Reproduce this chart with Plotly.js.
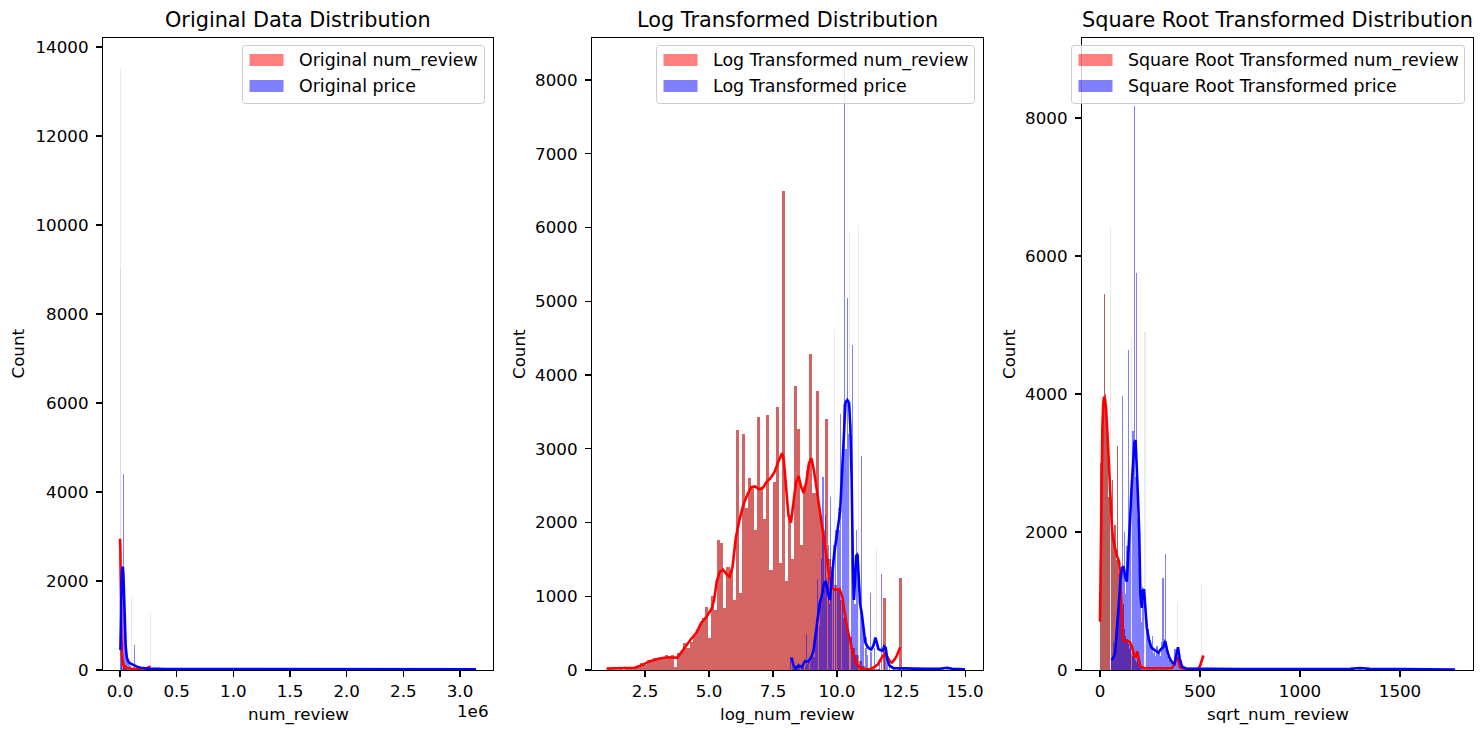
<!DOCTYPE html>
<html>
<head>
<meta charset="utf-8">
<script src="https://cdn.plot.ly/plotly-3.0.1.min.js"></script>
<style>
  html, body { margin: 0; padding: 0; background: #fff; }
  #chart { width: 1480px; height: 736px; }
</style>
</head>
<body>
<div id="chart"></div>
<script>
// ---------------- Panel 1: original values ----------------
const rawReviewBins   = [1500, 6000, 10500, 15000, 19500, 24000, 28500, 37500, 48000, 60000, 80000, 110000, 150000, 265000];
const rawReviewCounts = [13500, 9000, 450, 300, 200, 150, 100, 80, 60, 40, 30, 20, 10, 1250];
const rawReviewPale   = [1500, 6000, 265000];

const rawPriceBins   = [8000, 17000, 29000, 38000, 47000, 56000, 65000, 74000, 83000, 92000, 103000, 120000, 132000, 160000, 200000, 300000, 500000, 800000, 1200000, 1700000, 2300000, 3100000];
const rawPriceCounts = [500, 1800, 4400, 1500, 800, 400, 250, 150, 120, 80, 1650, 60, 560, 40, 25, 15, 10, 6, 5, 4, 3, 2];
const rawPricePale   = [103000];

const rawReviewKdeX = [0, 3000, 6000, 9000, 12000, 16000, 20000, 30000, 45000, 70000, 100000, 150000, 200000, 230000, 250000, 262000, 270000];
const rawReviewKdeY = [2950, 2750, 2100, 1300, 700, 380, 250, 130, 70, 40, 25, 15, 15, 30, 60, 70, 65];
const rawPriceKdeX  = [3600, 8000, 14000, 20000, 25000, 30000, 36000, 42000, 50000, 60000, 75000, 90000, 120000, 150000, 180000, 250000, 400000, 700000, 1000000, 1500000, 2000000, 2500000, 3140000];
const rawPriceKdeY  = [450, 1300, 2000, 2280, 2320, 2150, 1600, 1050, 550, 280, 180, 150, 110, 75, 50, 30, 22, 20, 18, 16, 15, 15, 14];

const rawTickVals = [0, 500000, 1000000, 1500000, 2000000, 2500000, 3000000];
const rawTickText = ['0.0', '0.5', '1.0', '1.5', '2.0', '2.5', '3.0'];

// ---------------- Panel 2: log transformed ----------------
const logReviewBinStart = 1.06, logReviewBinWidth = 0.12;
const logReviewCounts = [
  6, 0, 4, 0, 10, 0, 12, 18, 14, 30, 40,
  95, 70, 130, 110, 160, 130, 175, 160, 200, 190,
  205, 45, 230, 250, 360, 300, 380, 460, 540, 620,
  700, 860, 430, 1000, 820, 1760, 1720, 840, 1400, 1350,
  950, 3250, 1050, 3200, 2200, 2600, 2500, 1900, 3430, 2450,
  2050, 3460, 1350, 2550, 3560, 1450, 6500, 1200, 2100, 1500,
  3850, 3270, 1700, 2500, 2700, 4280, 2400, 3780, 2100, 1900,
  3400, 1500, 1300, 1150, 1100, 950, 700, 550, 450, 300,
  200, 120, 60, 30, 20, 15, 10, 8, 5, 980,
  4, 3, 2, 2, 1250
];
const logReviewPale = [];

const logPriceBinStart = 8.20, logPriceBinStep = 0.05;
const logPriceCounts = [
  170, 40, 15, 60, 20, 30, 90, 40, 60, 30, 120, 60, 490, 80, 150, 100,
  200, 260, 180, 420, 700, 1230, 600, 900, 1500, 2620, 1100, 2100, 1250, 1700, 900, 2350, 1400, 1700, 4620, 1900,
  1800, 2200, 1900, 3470, 2600, 3610, 8200, 3000, 5050, 3200, 5920, 2400, 4400, 1500, 900, 1900, 1600, 6030, 800, 2900,
  600, 500, 300, 450, 200
];
const logPriceTailBins   = [11.30, 11.35, 11.45, 11.55, 11.65, 11.75, 11.85, 11.95, 12.05, 12.20, 12.40, 12.60, 12.90, 13.20, 13.60, 14.30, 14.90];
const logPriceTailCounts = [1050, 250, 300, 1655, 150, 1300, 250, 150, 60, 30, 20, 15, 10, 8, 5, 20, 5];
const logPricePale = [9.90, 10.50, 10.85, 11.55];

const logReviewKdeX = [1.0, 1.6, 2.1, 2.4, 2.7, 3.0, 3.3, 3.6, 3.75, 3.9, 4.1, 4.3, 4.5, 4.7, 4.9, 5.1, 5.2, 5.3, 5.42, 5.55,
  5.68, 5.8, 5.92, 6.05, 6.2, 6.35, 6.5, 6.65, 6.8, 6.95, 7.1, 7.25, 7.4, 7.55, 7.68, 7.78, 7.85, 7.92, 8.0, 8.1,
  8.2, 8.3, 8.4, 8.5, 8.6, 8.7, 8.8, 8.9, 9.0, 9.1, 9.2, 9.3, 9.4, 9.5, 9.6, 9.7, 9.8, 9.9, 10.0, 10.1,
  10.2, 10.3, 10.4, 10.5, 10.6, 10.75, 10.87, 11.0, 11.27, 11.45, 11.6, 11.75, 11.86, 11.96, 12.06, 12.14, 12.22, 12.32, 12.4, 12.47];
const logReviewKdeY = [18, 20, 30, 70, 120, 150, 170, 170, 165, 230, 330, 420, 500, 640, 720, 830, 950, 1200, 1330, 1360,
  1300, 1265, 1400, 1800, 2050, 2250, 2380, 2480, 2490, 2450, 2470, 2550, 2600, 2680, 2800, 2900, 2940, 2850, 2500, 2100,
  2000, 2250, 2550, 2630, 2480, 2400, 2550, 2800, 2870, 2700, 2450, 2200, 1950, 1770, 1500, 1270, 1120, 1090, 1090, 1096,
  1000, 800, 560, 420, 260, 100, 32, 12, 9, 40, 78, 170, 216, 180, 120, 101, 130, 183, 240, 307];

const logPriceKdeX = [8.22, 8.30, 8.38, 8.50, 8.62, 8.75, 8.88, 9.00, 9.08, 9.16, 9.24, 9.32, 9.40, 9.50, 9.57, 9.64, 9.72, 9.80,
  9.88, 9.96, 10.04, 10.12, 10.20, 10.27, 10.33, 10.40, 10.47, 10.52, 10.57, 10.62, 10.66, 10.70, 10.75, 10.80, 10.85, 10.90,
  10.96, 11.02, 11.10, 11.18, 11.26, 11.34, 11.42, 11.50, 11.56, 11.62, 11.70, 11.78, 11.84, 11.90, 11.96, 12.05, 12.20, 12.50,
  13.00, 13.50, 14.00, 14.30, 14.50, 15.00];
const logPriceKdeY = [170, 60, 20, 60, 40, 120, 110, 180, 260, 480, 700, 900, 1000, 1180, 1200, 1050, 950, 1270,
  1550, 1750, 1950, 2150, 2700, 3300, 3630, 3660, 3620, 3300, 2600, 1400, 950, 1200, 1550, 1570, 1250, 900,
  780, 600, 380, 320, 290, 280, 330, 440, 350, 280, 270, 260, 320, 300, 150, 60, 25, 20,
  18, 15, 15, 30, 15, 8];

// ---------------- Panel 3: square root transformed ----------------
const sqrtReviewBinStart = 3, sqrtReviewBinStep = 6;
const sqrtReviewCounts = [3000, 3500, 3900, 5450, 4000, 3700, 3400, 2500, 6420, 2200,
  2750, 1900, 2100, 1600, 3250, 1400, 1200, 1000, 800, 950,
  600, 500, 450, 380, 300, 350, 250, 200, 180, 150,
  120, 160, 90, 60];
const sqrtReviewTailBins   = [213, 225, 237, 249, 261, 279, 303, 333, 387, 507];
const sqrtReviewTailCounts = [40, 35, 30, 25, 20, 15, 12, 8, 990, 1240];
const sqrtReviewPale = [51, 387, 507];

const sqrtPriceBinStart = 57, sqrtPriceBinStep = 6;
const sqrtPriceCounts = [150, 200, 400, 300, 500, 900, 700, 1500, 1300, 3970,
  1500, 2000, 1100, 1800, 4640, 2000, 2300, 4800, 3460, 8180,
  2800, 5760, 2200, 1900, 900, 700, 1200, 1000, 4900, 800,
  500, 600, 400, 350, 500, 250, 300, 200, 350, 250,
  300, 200, 400, 1330, 450, 1680, 300, 200, 150, 100,
  150, 120, 100, 300, 250, 150, 80, 60, 50, 40,
  30, 25];
const sqrtPriceTailBins   = [450, 500, 560, 680, 800, 1000, 1300, 1500, 1770];
const sqrtPriceTailCounts = [20, 15, 12, 10, 8, 6, 12, 5, 3];
const sqrtPricePale = [159, 225];

const sqrtReviewKdeX = [0, 4, 8, 12, 16, 20, 25, 30, 36, 42, 48, 54, 60, 66, 72, 78, 84, 90, 96, 102,
  108, 114, 120, 130, 140, 150, 160, 170, 178, 186, 194, 202, 220, 260, 320, 360, 372, 380, 386, 392,
  400, 420, 460, 490, 500, 508, 517];
const sqrtReviewKdeY = [700, 2000, 2900, 3500, 3850, 3960, 3930, 3800, 3500, 3150, 2700, 2300, 2050, 1900, 1820, 1720, 1650, 1620, 1560, 1250,
  880, 500, 420, 415, 420, 400, 330, 220, 180, 270, 150, 50, 30, 25, 25, 30, 80, 160, 190, 130,
  40, 15, 10, 12, 60, 150, 210];

const sqrtPriceKdeX = [56, 66, 76, 86, 94, 102, 110, 118, 126, 134, 142, 150, 158, 166, 172, 178, 184, 190, 196, 202,
  208, 214, 220, 226, 234, 244, 256, 268, 280, 292, 304, 316, 326, 336, 348, 360, 372, 382, 390, 398,
  410, 430, 470, 550, 700, 900, 1100, 1250, 1300, 1350, 1500, 1650, 1775];
const sqrtPriceKdeY = [150, 170, 260, 600, 950, 1300, 1480, 1500, 1350, 1280, 1650, 2150, 2650, 3050, 3300, 3330, 3000, 2500, 2000, 1100,
  900, 1150, 1170, 950, 620, 450, 330, 300, 280, 250, 300, 330, 420, 280, 170, 110, 90, 230, 330, 170,
  50, 22, 18, 16, 15, 14, 14, 16, 28, 16, 12, 10, 8];

// ---------------- Text ----------------
const panelTitles = ['Original Data Distribution', 'Log Transformed Distribution', 'Square Root Transformed Distribution'];
const xTitles = ['num_review', 'log_num_review', 'sqrt_num_review'];
const yTitle = 'Count';
const legendLabels = [
  ['Original num_review', 'Original price'],
  ['Log Transformed num_review', 'Log Transformed price'],
  ['Square Root Transformed num_review', 'Square Root Transformed price']
];
const offsetText = '1e6';

// ---------------- Drawing ----------------
const W = 1480, H = 736;
const px = x => x / W;
const py = y => 1 - y / H;
const FONT = 'DejaVu Sans, Liberation Sans, sans-serif';

const RED_BAR = '#d46363';
const RED_BAR_DENSE = '#b85c5c';
const BLUE_BAR = 'rgba(0,0,255,0.5)';
const PALE_BAR = 'rgba(190,190,190,0.32)';
const RED_LINE = '#ff0000';
const BLUE_LINE = '#0000ff';

function regularCenters(start, step, n) {
  const out = [];
  for (let i = 0; i < n; i++) out.push(start + i * step);
  return out;
}

function histTraces(centers, counts, pale, width, color, xa, ya) {
  const tol = width * 0.1;
  const isPale = c => pale.some(p => Math.abs(p - c) < tol);
  const nx = [], ny = [], qx = [], qy = [];
  centers.forEach((c, i) => {
    if (isPale(c)) { qx.push(c); qy.push(counts[i]); }
    else { nx.push(c); ny.push(counts[i]); }
  });
  const base = { type: 'bar', width: width, xaxis: xa, yaxis: ya, hoverinfo: 'skip', showlegend: false };
  return [
    Object.assign({}, base, { x: nx, y: ny, marker: { color: color, line: { width: 0 } } }),
    Object.assign({}, base, { x: qx, y: qy, marker: { color: PALE_BAR, line: { width: 0 } } })
  ];
}

function kdeTrace(x, y, color, xa, ya) {
  return { type: 'scatter', mode: 'lines', x: x, y: y, xaxis: xa, yaxis: ya,
           line: { color: color, width: 2.6 }, hoverinfo: 'skip', showlegend: false };
}

const traces = [];
// panel 1
traces.push(...histTraces(rawReviewBins, rawReviewCounts, rawReviewPale, 9000, RED_BAR, 'x', 'y'));
traces.push(kdeTrace(rawReviewKdeX, rawReviewKdeY, RED_LINE, 'x', 'y'));
traces.push(...histTraces(rawPriceBins, rawPriceCounts, rawPricePale, 9000, BLUE_BAR, 'x', 'y'));
traces.push(kdeTrace(rawPriceKdeX, rawPriceKdeY, BLUE_LINE, 'x', 'y'));
// panel 2 (price bars drawn slightly narrower than their bins, leaving thin gaps)
traces.push(...histTraces(regularCenters(logReviewBinStart, logReviewBinWidth, logReviewCounts.length),
  logReviewCounts, logReviewPale, logReviewBinWidth, RED_BAR, 'x2', 'y2'));
traces.push(kdeTrace(logReviewKdeX, logReviewKdeY, RED_LINE, 'x2', 'y2'));
traces.push(...histTraces(
  regularCenters(logPriceBinStart, logPriceBinStep, logPriceCounts.length).concat(logPriceTailBins),
  logPriceCounts.concat(logPriceTailCounts), logPricePale, 0.042, BLUE_BAR, 'x2', 'y2'));
traces.push(kdeTrace(logPriceKdeX, logPriceKdeY, BLUE_LINE, 'x2', 'y2'));
// panel 3
traces.push(...histTraces(
  regularCenters(sqrtReviewBinStart, sqrtReviewBinStep, sqrtReviewCounts.length).concat(sqrtReviewTailBins),
  sqrtReviewCounts.concat(sqrtReviewTailCounts), sqrtReviewPale, sqrtReviewBinStep, RED_BAR_DENSE, 'x3', 'y3'));
traces.push(kdeTrace(sqrtReviewKdeX, sqrtReviewKdeY, RED_LINE, 'x3', 'y3'));
traces.push(...histTraces(
  regularCenters(sqrtPriceBinStart, sqrtPriceBinStep, sqrtPriceCounts.length).concat(sqrtPriceTailBins),
  sqrtPriceCounts.concat(sqrtPriceTailCounts), sqrtPricePale, sqrtPriceBinStep, BLUE_BAR, 'x3', 'y3'));
traces.push(kdeTrace(sqrtPriceKdeX, sqrtPriceKdeY, BLUE_LINE, 'x3', 'y3'));

const TICK_FONT = { family: FONT, size: 16.7, color: '#000' };
function axis(extra) {
  return Object.assign({
    showline: true, mirror: true, linecolor: '#000', linewidth: 1.1,
    ticks: 'outside', ticklen: 6, tickwidth: 1.1, tickcolor: '#000',
    showgrid: false, zeroline: false, tickfont: TICK_FONT, fixedrange: true
  }, extra);
}

// frame pixel bounds of each subplot
const frames = [[103, 493], [592, 983], [1082, 1473]];
const frameTop = 38, frameBottom = 670;
const yDomain = [py(frameBottom), py(frameTop)];

const layout = {
  width: W, height: H,
  margin: { l: 0, r: 0, t: 0, b: 0 },
  paper_bgcolor: '#fff', plot_bgcolor: '#fff',
  showlegend: false, barmode: 'overlay', bargap: 0,
  font: { family: FONT, color: '#000' },
  xaxis: axis({ domain: [px(frames[0][0]), px(frames[0][1])], range: [-150000, 3291000],
                tickmode: 'array', tickvals: rawTickVals, ticktext: rawTickText, anchor: 'y' }),
  yaxis: axis({ domain: yDomain, range: [0, 14202], tick0: 0, dtick: 2000, tickformat: 'd', anchor: 'x', ticklabelstandoff: 4 }),
  xaxis2: axis({ domain: [px(frames[1][0]), px(frames[1][1])], range: [0.43, 15.70],
                 tick0: 0, dtick: 2.5, tickformat: '.1f', anchor: 'y2' }),
  yaxis2: axis({ domain: yDomain, range: [0, 8569], tick0: 0, dtick: 1000, tickformat: 'd', anchor: 'x2', ticklabelstandoff: 4 }),
  xaxis3: axis({ domain: [px(frames[2][0]), px(frames[2][1])], range: [-90, 1865],
                 tick0: 0, dtick: 500, tickformat: 'd', anchor: 'y3' }),
  yaxis3: axis({ domain: yDomain, range: [0, 9159], tick0: 0, dtick: 2000, tickformat: 'd', anchor: 'x3', ticklabelstandoff: 4 }),
  shapes: [],
  annotations: []
};

function text(t, x, y, opts) {
  layout.annotations.push(Object.assign({
    text: t, xref: 'paper', yref: 'paper', x: px(x), y: py(y),
    xanchor: 'center', yanchor: 'middle', showarrow: false,
    font: { family: FONT, size: 16.7, color: '#000' }
  }, opts || {}));
}

// titles and axis labels
const yTitleX = [17.5, 519, 1009];
frames.forEach((f, i) => {
  const cx = (f[0] + f[1]) / 2;
  text(panelTitles[i], cx, 19.5, { font: { family: FONT, size: 20.8, color: '#000' } });
  text(xTitles[i], cx, 714);
  text(yTitle, yTitleX[i], (frameTop + frameBottom) / 2, { textangle: -90 });
});
text(offsetText, 491, 711, { xanchor: 'right' });

// legends
function P(x, y) { return px(x).toFixed(6) + ',' + py(y).toFixed(6); }
function roundedRect(x0, y0, x1, y1, r) {
  return 'M' + P(x0 + r, y0) + ' L' + P(x1 - r, y0) + ' Q' + P(x1, y0) + ' ' + P(x1, y0 + r) +
         ' L' + P(x1, y1 - r) + ' Q' + P(x1, y1) + ' ' + P(x1 - r, y1) +
         ' L' + P(x0 + r, y1) + ' Q' + P(x0, y1) + ' ' + P(x0, y1 - r) +
         ' L' + P(x0, y0 + r) + ' Q' + P(x0, y0) + ' ' + P(x0 + r, y0) + ' Z';
}
const legendLeft = [242.5, 656.5, 1071.5];
const legendRight = [484.5, 974.5, 1464.5];
const legendSwatch = ['rgba(255,0,0,0.5)', 'rgba(0,0,255,0.5)'];
const rowY = [60, 86];
legendLeft.forEach((lx, i) => {
  layout.shapes.push({
    type: 'path', xref: 'paper', yref: 'paper', layer: 'above',
    path: roundedRect(lx, 45.5, legendRight[i], 103.5, 3),
    fillcolor: 'rgba(255,255,255,0.8)', line: { color: '#cccccc', width: 1 }
  });
  rowY.forEach((ry, k) => {
    layout.shapes.push({
      type: 'rect', xref: 'paper', yref: 'paper', layer: 'above',
      x0: px(lx + 7), x1: px(lx + 41), y0: py(ry - 6), y1: py(ry + 6),
      fillcolor: legendSwatch[k], line: { width: 0 }
    });
    text(legendLabels[i][k], lx + 54, ry, { xanchor: 'left', font: { family: FONT, size: 17.4, color: '#000' } });
  });
});

Plotly.newPlot('chart', traces, layout, { staticPlot: true, displayModeBar: false });
</script>
</body>
</html>
